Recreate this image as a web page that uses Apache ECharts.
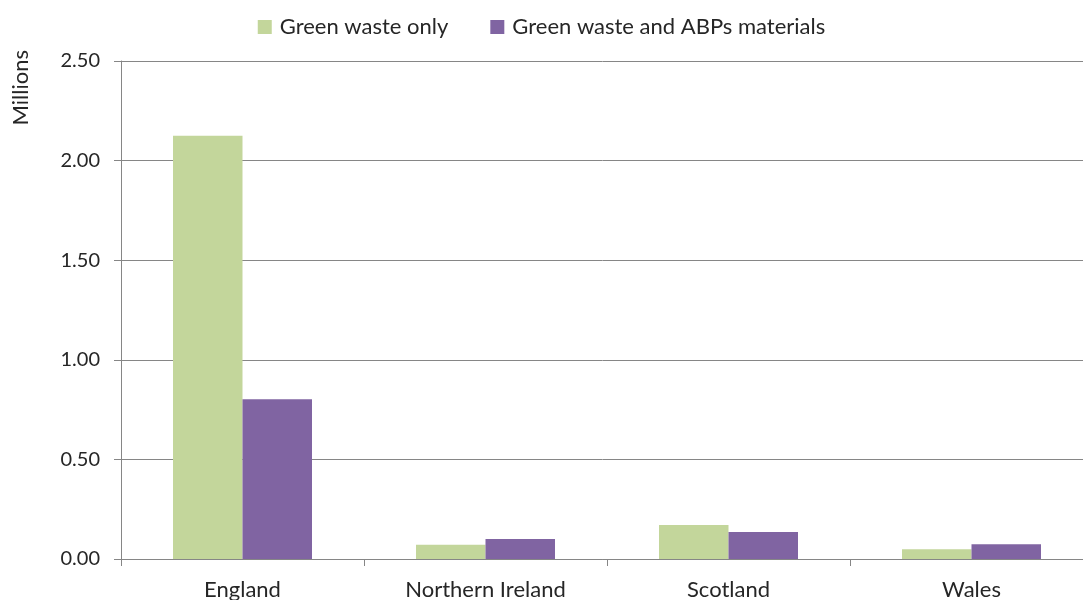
<!DOCTYPE html>
<html>
<head>
<meta charset="utf-8">
<script src="https://cdn.jsdelivr.net/npm/echarts@6/dist/echarts.min.js"></script>
<style>
    html, body { margin: 0; padding: 0; background: #fff; }
    #chart { width: 1083px; height: 600px; }
</style>
</head>
<body>
<div id="chart"></div>
<script>
    var categories = ['England', 'Northern Ireland', 'Scotland', 'Wales'];
    var greenOnly = [2.125, 0.072, 0.171, 0.049];
    var greenAbp = [0.802, 0.100, 0.136, 0.074];
    var seriesNames = ['Green waste only', 'Green waste and ABPs materials'];

    var chart = echarts.init(document.getElementById('chart'));
    var textColor = '#262626';
    var fontFam = 'Lato, "Open Sans", sans-serif';

    chart.setOption({
        animation: false,
        textStyle: { fontFamily: fontFam },
        legend: {
            top: 11,
            left: 'center',
            itemWidth: 14,
            itemHeight: 14,
            itemGap: 42,
            icon: 'rect',
            textStyle: { fontSize: 22, color: textColor, fontFamily: fontFam, padding: [0, 0, 0, 3] },
            data: seriesNames
        },
        grid: { left: 121, top: 61, width: 972, height: 498, outerBoundsMode: 'none' },
        xAxis: {
            type: 'category',
            data: categories,
            axisLine: { lineStyle: { color: '#868686', width: 1 } },
            axisTick: { show: true, length: 7, lineStyle: { color: '#868686' } },
            axisLabel: { fontSize: 22, color: textColor, margin: 20 }
        },
        yAxis: {
            type: 'value',
            min: 0,
            max: 2.5,
            interval: 0.5,
            axisLine: { show: true, lineStyle: { color: '#868686' } },
            axisTick: { show: true, length: 7, lineStyle: { color: '#868686' } },
            splitLine: { lineStyle: { color: '#868686', width: 1 } },
            axisLabel: {
                fontSize: 20, color: textColor, margin: 21,
                formatter: function (v) { return v.toFixed(2); }
            }
        },
        graphic: [{
            type: 'text',
            left: 10,
            top: 50,
            rotation: Math.PI / 2,
            style: { text: 'Millions', fontSize: 22, fill: textColor, fontFamily: fontFam }
        }],
        series: [
            {
                name: seriesNames[0],
                type: 'bar',
                data: greenOnly,
                barWidth: '28.6%',
                barGap: '0%',
                itemStyle: { color: '#c3d69b' }
            },
            {
                name: seriesNames[1],
                type: 'bar',
                data: greenAbp,
                barWidth: '28.6%',
                barGap: '0%',
                itemStyle: { color: '#8064a2' }
            }
        ]
    });
</script>
</body>
</html>
